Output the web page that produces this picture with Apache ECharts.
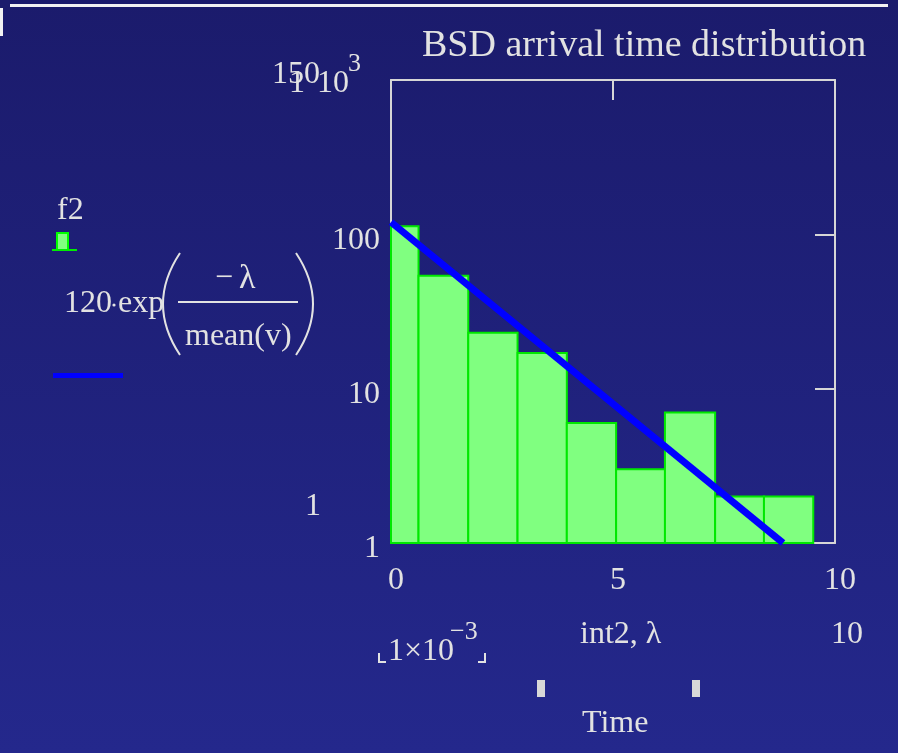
<!DOCTYPE html>
<html><head><meta charset="utf-8">
<script src="https://cdn.jsdelivr.net/npm/echarts@6/dist/echarts.min.js"></script>
<style>html,body{margin:0;padding:0;background:#1e1e74}#c{width:898px;height:753px}</style>
</head><body><div id="c"></div>
<script>
// Histogram bins (x in units of 1e-3) and counts
const binEdges = [0, 0.62, 1.74, 2.85, 3.96, 5.07, 6.17, 7.30, 8.40, 9.51];
const counts = [113, 54, 23, 17, 6, 3, 7, 2, 2];
// Exponential fit 120*exp(-lambda/mean(v)) read at its two ends
const fitLambda = [0, 8.83];
const fitValue = [120, 1];
// Axes
const xMin = 0, xMax = 10, xInterval = 5;
const yMin = 1, yMax = 1000;

const TXT = '#e2e2e2';
const FRAME = '#d6d6d6';
const SERIF = '"Liberation Serif", "DejaVu Serif", serif';

const barData = counts.map((c, i) => [binEdges[i], binEdges[i + 1], c]);
const fitData = fitLambda.map((x, i) => [x, fitValue[i]]);

function t(text, x, y, size, extra) {
  return Object.assign({
    type: 'text', silent: true,
    style: { text: text, x: x, y: y, font: size + 'px ' + SERIF, fill: TXT, verticalAlign: 'middle', align: 'left' }
  }, extra || {});
}

const chart = echarts.init(document.getElementById('c'));
const axisLine = { show: true, onZero: false, lineStyle: { color: FRAME, width: 2 } };
const axisTick = { show: true, inside: true, length: 20, lineStyle: { color: FRAME, width: 2 } };
chart.setOption({
  backgroundColor: { type: 'linear', x: 0, y: 0, x2: 0, y2: 1,
    colorStops: [{ offset: 0, color: '#1b1b6c' }, { offset: 1, color: '#24288c' }] },
  animation: false,
  grid: { left: 391, top: 80, width: 444, height: 463, containLabel: false },
  xAxis: [
    { type: 'value', min: xMin, max: xMax, interval: xInterval, position: 'bottom',
      axisLine: axisLine, axisTick: axisTick, splitLine: { show: false },
      axisLabel: { color: TXT, fontSize: 32, fontFamily: SERIF, margin: 22, padding: [0, 0, 0, 10] } },
    { type: 'value', min: xMin, max: xMax, interval: xInterval, position: 'top',
      axisLine: axisLine, axisTick: axisTick, splitLine: { show: false }, axisLabel: { show: false } }
  ],
  yAxis: [
    { type: 'log', logBase: 10, min: yMin, max: yMax, position: 'left',
      axisLine: axisLine, axisTick: axisTick, splitLine: { show: false },
      axisLabel: { color: TXT, fontSize: 32, fontFamily: SERIF, margin: 11, verticalAlign: 'top', lineHeight: 12,
        formatter: v => (Math.round(v) >= 1000 ? '' : String(Math.round(v))) } },
    { type: 'log', logBase: 10, min: yMin, max: yMax, position: 'right',
      axisLine: axisLine, axisTick: axisTick, splitLine: { show: false }, axisLabel: { show: false } }
  ],
  series: [
    { type: 'custom', name: 'f2', xAxisIndex: 0, yAxisIndex: 0, data: barData, z: 3,
      encode: { x: [0, 1], y: 2 },
      renderItem: function (params, api) {
        const p0 = api.coord([api.value(0), api.value(2)]);
        const p1 = api.coord([api.value(1), yMin]);
        return { type: 'rect',
          shape: { x: p0[0], y: p0[1], width: p1[0] - p0[0], height: p1[1] - p0[1] },
          style: { fill: '#80ff80', stroke: '#00e800', lineWidth: 2 } };
      } },
    { type: 'line', name: 'fit', xAxisIndex: 0, yAxisIndex: 0, data: fitData, z: 5,
      showSymbol: false, symbol: 'none', clip: true,
      lineStyle: { color: '#0000ff', width: 7 } }
  ],
  graphic: [
    { type: 'rect', silent: true, shape: { x: 10, y: 4, width: 878, height: 3 }, style: { fill: '#f2f2f2' } },
    { type: 'rect', silent: true, shape: { x: 0, y: 8, width: 3, height: 28 }, style: { fill: '#f2f2f2' } },
    t('BSD arrival time distribution', 422, 46, 38),
    t('150', 272, 75, 32),
    t('1', 289, 84, 32),
    t('10', 317, 84, 32),
    t('3', 348, 64, 26),
    t('1', 305, 507, 32),
    // legend
    t('f2', 57, 211, 32),
    { type: 'rect', silent: true, shape: { x: 57, y: 233, width: 11, height: 17 }, style: { fill: '#80ff80', stroke: '#00ff00', lineWidth: 2 } },
    { type: 'line', silent: true, shape: { x1: 52, y1: 250, x2: 77, y2: 250 }, style: { stroke: '#00ee00', lineWidth: 2 } },
    t('120', 64, 304, 32),
    { type: 'circle', silent: true, shape: { cx: 114, cy: 305, r: 1.6 }, style: { fill: TXT } },
    t('exp', 118, 304, 32),
    { type: 'bezierCurve', silent: true, shape: { x1: 180, y1: 253, cpx1: 146, cpy1: 304, x2: 180, y2: 355 }, style: { stroke: TXT, lineWidth: 2, fill: null } },
    { type: 'bezierCurve', silent: true, shape: { x1: 296, y1: 253, cpx1: 330, cpy1: 304, x2: 296, y2: 355 }, style: { stroke: TXT, lineWidth: 2, fill: null } },
    t('\u2212', 215, 279, 32),
    t('\u03bb', 239, 279, 34),
    { type: 'rect', silent: true, shape: { x: 178, y: 301, width: 120, height: 2 }, style: { fill: TXT } },
    t('mean(v)', 185, 337, 32),
    { type: 'rect', silent: true, shape: { x: 53, y: 373, width: 70, height: 5 }, style: { fill: '#0000ff' } },
    // bottom annotations
    t('1\u00d710', 388, 652, 32),
    t('\u22123', 450, 632, 26),
    { type: 'polyline', silent: true, shape: { points: [[379, 653], [379, 662], [386, 662]] }, style: { stroke: TXT, lineWidth: 2, fill: null } },
    { type: 'polyline', silent: true, shape: { points: [[478, 662], [485, 662], [485, 653]] }, style: { stroke: TXT, lineWidth: 2, fill: null } },
    t('int2, \u03bb', 580, 635, 32),
    t('10', 831, 635, 32),
    { type: 'rect', silent: true, shape: { x: 537, y: 680, width: 8, height: 17 }, style: { fill: '#d8d8d8' } },
    { type: 'rect', silent: true, shape: { x: 692, y: 680, width: 8, height: 17 }, style: { fill: '#d8d8d8' } },
    t('Time', 582, 724, 32)
  ]
});
</script>
</body></html>
